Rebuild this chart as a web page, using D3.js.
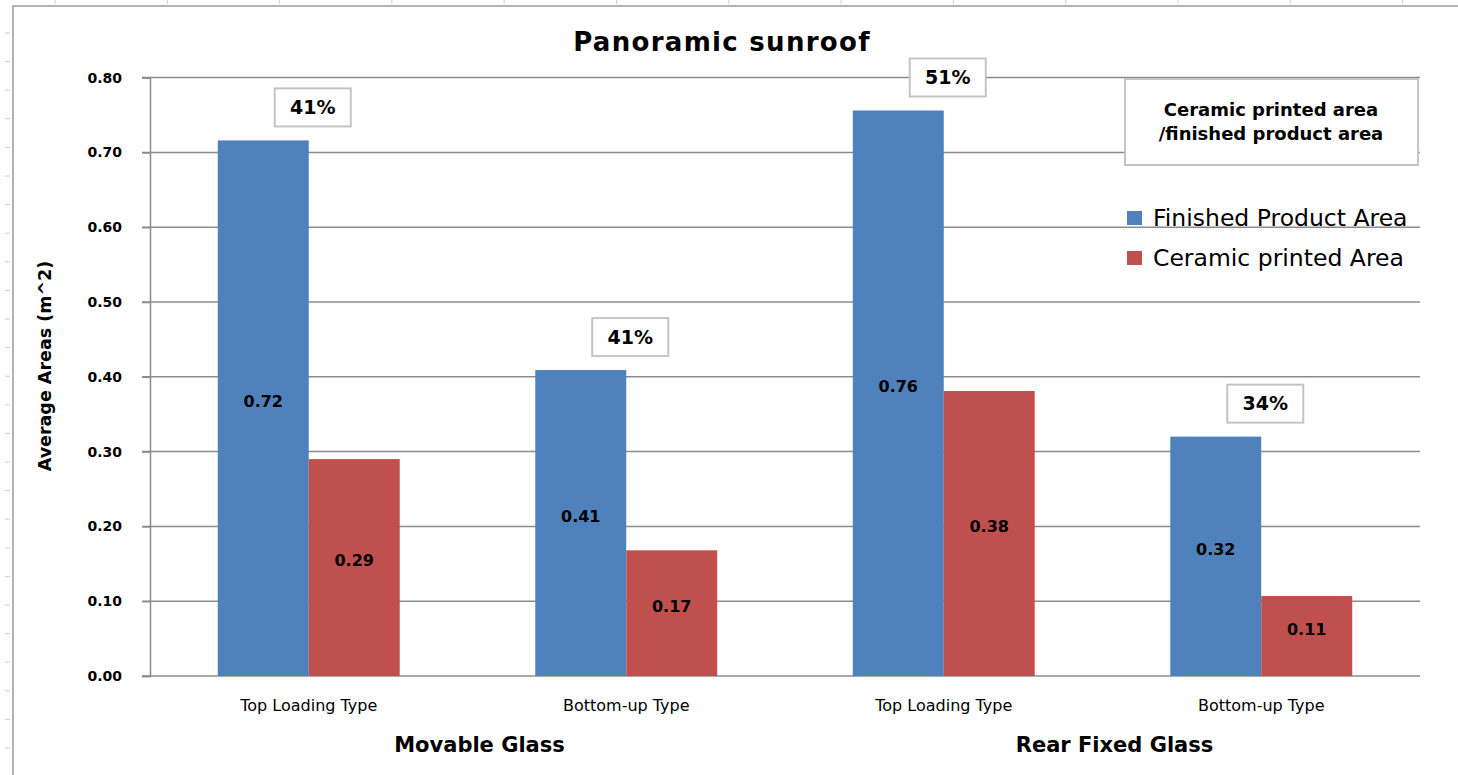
<!DOCTYPE html>
<html>
<head>
<meta charset="utf-8">
<script src="https://cdn.jsdelivr.net/npm/d3@7"></script>
<style>
  body { margin: 0; background: #fff; }
  text { font-family: "DejaVu Sans", sans-serif; fill: #000; }
</style>
</head>
<body>
<svg id="chart" width="1458" height="775"></svg>
<script>
// ---- data
var categories = ["Top Loading Type", "Bottom-up Type", "Top Loading Type", "Bottom-up Type"];
var groups = ["Movable Glass", "Rear Fixed Glass"];
var seriesNames = ["Finished Product Area", "Ceramic printed Area"];
var finishedArea = [0.716, 0.409, 0.756, 0.32];
var ceramicArea = [0.29, 0.168, 0.381, 0.107];
var ratioLabels = ["41%", "41%", "51%", "34%"];
var yTicks = [0, 0.1, 0.2, 0.3, 0.4, 0.5, 0.6, 0.7, 0.8];

var colors = ["#4f81bd", "#c0504d"];
var gridColor = "#8c8c8c";

var svg = d3.select("#chart");

// sheet frame + faint row/column marks
svg.append("g").selectAll("line")
   .data(d3.range(0, 13))
   .join("line")
   .attr("x1", function(d) { return 55 + d * 112.3; })
   .attr("x2", function(d) { return 55 + d * 112.3; })
   .attr("y1", 0).attr("y2", 4)
   .attr("stroke", "#c8d0dc").attr("stroke-width", 1);
svg.append("g").selectAll("line")
   .data(d3.range(0, 27))
   .join("line")
   .attr("x1", 5).attr("x2", 10)
   .attr("y1", function(d) { return 33 + d * 28.6; })
   .attr("y2", function(d) { return 33 + d * 28.6; })
   .attr("stroke", "#c8d0dc").attr("stroke-width", 1);
svg.append("path")
   .attr("d", "M13,780 L13,6 L1460,6")
   .attr("fill", "none").attr("stroke", "#9a9a9a").attr("stroke-width", 1.5);

// ---- scales
var x0 = d3.scaleBand().domain(d3.range(categories.length)).range([150, 1420]);
var x1 = d3.scaleBand().domain(seriesNames).range([0, x0.bandwidth()]).paddingOuter(0.745);
var y = d3.scaleLinear().domain([0, 0.8]).range([676, 77.6]);

// gridlines
svg.append("g").selectAll("line")
   .data(yTicks)
   .join("line")
   .attr("x1", 142).attr("x2", 1420)
   .attr("y1", function(d) { return y(d); })
   .attr("y2", function(d) { return y(d); })
   .attr("stroke", gridColor).attr("stroke-width", 1.5);

// y axis
var yAxis = svg.append("g")
   .attr("transform", "translate(150,0)")
   .call(d3.axisLeft(y).tickValues(yTicks).tickFormat(d3.format(".2f")).tickSize(8).tickPadding(20));
yAxis.select(".domain").attr("stroke", gridColor).attr("stroke-width", 1.5);
yAxis.selectAll(".tick line").attr("stroke", gridColor).attr("stroke-width", 1.5);
yAxis.selectAll(".tick text")
     .style("font-family", "'DejaVu Sans', sans-serif")
     .style("font-size", "14px").style("font-weight", "700").attr("fill", "#333");

// bars
var rows = categories.map(function(c, i) {
  return { i: i, values: [finishedArea[i], ceramicArea[i]] };
});

var cat = svg.append("g").selectAll("g")
   .data(rows)
   .join("g")
   .attr("transform", function(d) { return "translate(" + x0(d.i) + ",0)"; });

cat.selectAll("rect")
   .data(function(d) { return d.values.map(function(v, k) { return { k: k, v: v }; }); })
   .join("rect")
   .attr("x", function(d) { return x1(seriesNames[d.k]); })
   .attr("width", x1.bandwidth())
   .attr("y", function(d) { return y(d.v); })
   .attr("height", function(d) { return y(0) - y(d.v); })
   .attr("fill", function(d) { return colors[d.k]; });

cat.selectAll("text.val")
   .data(function(d) { return d.values.map(function(v, k) { return { k: k, v: v }; }); })
   .join("text")
   .attr("class", "val")
   .attr("x", function(d) { return x1(seriesNames[d.k]) + x1.bandwidth() / 2; })
   .attr("y", function(d) { return (y(d.v) + y(0)) / 2 - 7; })
   .attr("dy", "0.35em")
   .attr("text-anchor", "middle")
   .attr("fill", "#1a1a1a")
   .style("font-size", "16px").style("font-weight", "700")
   .text(function(d) { return d.v.toFixed(2); });

// ratio boxes above each blue bar
var ratio = cat.append("g")
   .attr("transform", function(d) {
     return "translate(" + (x0.bandwidth() / 2 + 4) + "," + (y(finishedArea[d.i]) - 14 - 19) + ")";
   });
ratio.append("rect")
   .attr("x", -38).attr("y", -19).attr("width", 76).attr("height", 38)
   .attr("fill", "#fff").attr("stroke", "#c4c4c4").attr("stroke-width", 2);
ratio.append("text")
   .attr("text-anchor", "middle").attr("dy", "0.35em")
   .attr("fill", "#1a1a1a")
   .style("font-size", "19px").style("font-weight", "700")
   .text(function(d) { return ratioLabels[d.i]; });

// category labels
svg.append("g").selectAll("text")
   .data(rows)
   .join("text")
   .attr("x", function(d) { return x0(d.i) + x0.bandwidth() / 2; })
   .attr("y", 705)
   .attr("dy", "0.35em")
   .attr("text-anchor", "middle")
   .attr("fill", "#1a1a1a")
   .style("font-size", "16px")
   .text(function(d) { return categories[d.i]; });

// group labels
svg.append("g").selectAll("text")
   .data(groups)
   .join("text")
   .attr("x", function(d, g) { return x0(g * 2 + 1) + 12; })
   .attr("y", 745)
   .attr("dy", "0.35em")
   .attr("text-anchor", "middle")
   .style("font-size", "21px").style("font-weight", "700")
   .text(function(d) { return d; });

// title
svg.append("text")
   .attr("x", 722).attr("y", 42).attr("dy", "0.35em")
   .attr("text-anchor", "middle")
   .style("font-size", "26px").style("font-weight", "700")
   .style("letter-spacing", "1.3px")
   .text("Panoramic sunroof");

// y axis title
svg.append("text")
   .attr("transform", "translate(45,366) rotate(-90)")
   .attr("dy", "0.35em")
   .attr("text-anchor", "middle")
   .style("font-size", "17.5px").style("font-weight", "700")
   .text("Average Areas (m^2)");

// ratio note box
var note = svg.append("g").attr("transform", "translate(1125,79)");
note.append("rect")
   .attr("width", 293).attr("height", 86)
   .attr("fill", "#fff").attr("stroke", "#c4c4c4").attr("stroke-width", 2);
note.append("text")
   .attr("x", 146).attr("y", 31).attr("dy", "0.35em").attr("text-anchor", "middle")
   .style("font-size", "18px").style("font-weight", "700")
   .text("Ceramic printed area");
note.append("text")
   .attr("x", 146).attr("y", 55).attr("dy", "0.35em").attr("text-anchor", "middle")
   .style("font-size", "18px").style("font-weight", "700")
   .text("/finished product area");

// legend
var legend = svg.append("g").selectAll("g")
   .data(seriesNames)
   .join("g")
   .attr("transform", function(d, k) { return "translate(1127," + (218 + k * 40) + ")"; });
legend.append("rect")
   .attr("x", 0).attr("y", -7).attr("width", 15).attr("height", 14)
   .attr("fill", function(d, k) { return colors[k]; });
legend.append("text")
   .attr("x", 26).attr("dy", "0.35em")
   .style("font-size", "23.5px")
   .attr("fill", "#222")
   .text(function(d) { return d; });
</script>
</body>
</html>
